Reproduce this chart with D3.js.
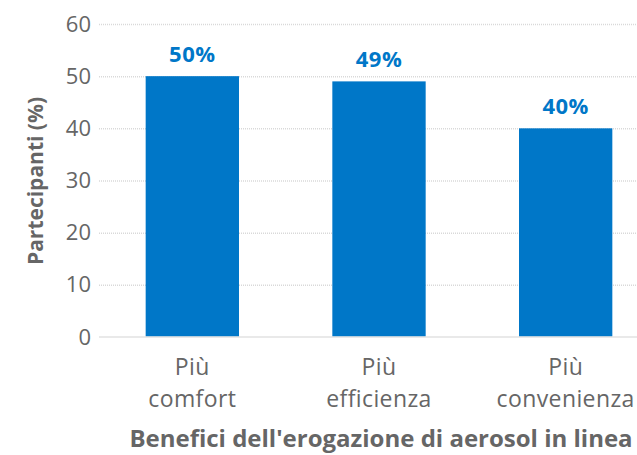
<!DOCTYPE html>
<html>
<head>
<meta charset="utf-8">
<script src="https://cdn.jsdelivr.net/npm/d3@7"></script>
<style>
  body { margin: 0; background: #fff; }
  text { font-family: "Open Sans", sans-serif; font-variant-ligatures: none; }
</style>
</head>
<body>
<script>
var svg_Width = 637;
var svg_Height = 455;

// data
var categories = ["Più comfort", "Più efficienza", "Più convenienza"];
var catLines = [["Più", "comfort"], ["Più", "efficienza"], ["Più", "convenienza"]];
var values = [50, 49, 40];
var valueLabels = ["50%", "49%", "40%"];
var yTicks = [0, 10, 20, 30, 40, 50, 60];

var svg = d3.select("body")
  .append("svg")
  .attr("width", svg_Width)
  .attr("height", svg_Height);

var x = d3.scaleBand()
  .domain(categories)
  .range([99, 659])
  .paddingInner(0.5)
  .paddingOuter(0.25);

var y = d3.scaleLinear()
  .domain([0, 60])
  .range([337, 24]);

// gridlines
var grid = svg.append("g")
  .attr("transform", "translate(99,0)")
  .call(d3.axisLeft(y).tickValues(yTicks.slice(1)).tickSize(-560).tickFormat(""));
grid.select(".domain").remove();
grid.selectAll("line")
  .attr("stroke", "#d9d9d9")
  .attr("stroke-width", 1.5)
  .attr("stroke-dasharray", "1,1");

// y tick labels
var yAxis = svg.append("g")
  .attr("transform", "translate(99,0)")
  .call(d3.axisLeft(y).tickValues(yTicks).tickSize(0).tickPadding(8));
yAxis.select(".domain").remove();
yAxis.selectAll("text")
  .attr("font-size", 22)
  .attr("fill", "#666")
  .style("font-family", "'Open Sans', sans-serif");

// bars
svg.selectAll(".bar")
  .data(values)
  .enter()
  .append("rect")
  .attr("class", "bar")
  .attr("x", (d, i) => x(categories[i]))
  .attr("y", d => y(d))
  .attr("width", x.bandwidth())
  .attr("height", d => y(0) - y(d))
  .attr("fill", "#0077c8");

// zero line
svg.append("line")
  .attr("x1", 99).attr("x2", 637)
  .attr("y1", y(0)).attr("y2", y(0))
  .attr("stroke", "#e3e3e3")
  .attr("stroke-opacity", 0.8)
  .attr("stroke-width", 2);

// value labels
svg.selectAll(".val")
  .data(values)
  .enter()
  .append("text")
  .attr("class", "val")
  .attr("x", (d, i) => x(categories[i]) + x.bandwidth() / 2)
  .attr("y", d => y(d) - 14)
  .attr("text-anchor", "middle")
  .attr("font-size", 22)
  .attr("letter-spacing", 0.5)
  .attr("font-weight", "bold")
  .attr("fill", "#0077c8")
  .text((d, i) => valueLabels[i]);

// category labels
var cat = svg.selectAll(".cat")
  .data(categories)
  .enter()
  .append("text")
  .attr("class", "cat")
  .attr("text-anchor", "middle")
  .attr("font-size", 23)
  .attr("letter-spacing", 0.4)
  .attr("fill", "#666");
cat.each(function (d, i) {
  var t = d3.select(this);
  catLines[i].forEach(function (line, j) {
    t.append("tspan")
      .attr("x", x(d) + x.bandwidth() / 2)
      .attr("y", 375 + j * 32)
      .text(line);
  });
});

// x axis title
svg.append("text")
  .attr("x", 381)
  .attr("y", 447)
  .attr("text-anchor", "middle")
  .attr("font-size", 24)
  .attr("font-weight", "bold")
  .attr("fill", "#666")
  .text("Benefici dell'erogazione di aerosol in linea");

// y axis title
svg.append("text")
  .attr("transform", "rotate(-90)")
  .attr("x", -181)
  .attr("y", 43)
  .attr("text-anchor", "middle")
  .attr("font-size", 21)
  .attr("font-weight", "bold")
  .attr("fill", "#666")
  .text("Partecipanti (%)");
</script>
</body>
</html>
